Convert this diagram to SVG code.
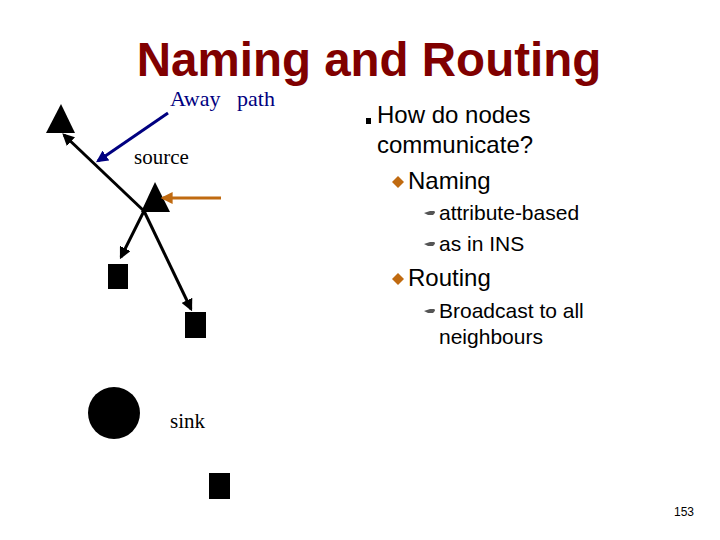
<svg xmlns="http://www.w3.org/2000/svg" width="720" height="540" viewBox="0 0 720 540">
<style>
.s{font-family:"Liberation Sans",Arial,sans-serif;fill:#000}
.r{font-family:"Liberation Serif","Times New Roman",serif}
.c{stroke:#000;stroke-width:3;fill:none}
</style>
<defs>
<marker id="ab" viewBox="0 0 10 10" refX="8" refY="5" markerWidth="4" markerHeight="4" orient="auto"><path d="M0,0L10,5L0,10z" fill="#000"/></marker>
<marker id="au" viewBox="0 0 10 10" refX="8" refY="5" markerWidth="4" markerHeight="4" orient="auto"><path d="M0,0L10,5L0,10z" fill="#000080"/></marker>
<marker id="ao" viewBox="0 0 10 10" refX="8" refY="5" markerWidth="4" markerHeight="4" orient="auto"><path d="M0,0L10,5L0,10z" fill="#c06a10"/></marker>
<path id="hand" d="M0,3 L6,1 L10,1 Q12,2 10,4 L9,5 L4,5 Z" fill="#555"/>
</defs>
<rect width="720" height="540" fill="#fff"/>
<text x="369" y="76" text-anchor="middle" font-family="Liberation Sans,Arial,sans-serif" font-weight="bold" font-size="47.5" fill="#800000">Naming and Routing</text>
<text class="r" x="170" y="106" font-size="22" fill="#000080" xml:space="preserve">Away   path</text>
<text class="r" x="134" y="164" font-size="21">source</text>
<text class="r" x="170" y="428" font-size="21">sink</text>
<g id="node-tl"><path d="M61,104 L75,133 L46,133 Z" fill="#000"/></g>
<g id="node-source"><path d="M155,182 L170,212 L141,212 Z" fill="#000"/></g>
<g id="node-sq1"><rect x="108" y="264" width="20" height="25" fill="#000"/></g>
<g id="node-sq2"><rect x="185" y="312" width="21" height="26" fill="#000"/></g>
<g id="node-sq3"><rect x="209" y="473" width="21" height="26" fill="#000"/></g>
<g id="node-sink"><circle cx="114" cy="413" r="26" fill="#000"/></g>
<g id="connectors">
<line class="c" x1="144" y1="211" x2="64" y2="135" marker-end="url(#ab)"/>
<line class="c" x1="144" y1="211" x2="121" y2="257" marker-end="url(#ab)"/>
<line class="c" x1="144" y1="211" x2="191" y2="309" marker-end="url(#ab)"/>
<line x1="168" y1="113" x2="98" y2="161" stroke="#000080" stroke-width="3" marker-end="url(#au)"/>
<line x1="221" y1="198" x2="163" y2="198" stroke="#c06a10" stroke-width="3" marker-end="url(#ao)"/>
</g>
<rect x="366" y="118" width="5" height="6" fill="#000"/>
<text class="s" x="377" y="123" font-size="24">How do nodes</text>
<text class="s" x="377" y="153" font-size="24">communicate?</text>
<path d="M392,182 L398,176 L404,182 L398,188 Z" fill="#c06a10"/>
<text class="s" x="408" y="189" font-size="24">Naming</text>
<use href="#hand" x="424" y="210"/>
<text class="s" x="439" y="220" font-size="21">attribute-based</text>
<use href="#hand" x="424" y="241"/>
<text class="s" x="439" y="251" font-size="21">as in INS</text>
<path d="M392,279 L398,273 L404,279 L398,285 Z" fill="#c06a10"/>
<text class="s" x="408" y="286" font-size="24">Routing</text>
<use href="#hand" x="424" y="308"/>
<text class="s" x="439" y="318" font-size="21">Broadcast to all</text>
<text class="s" x="439" y="344" font-size="21">neighbours</text>
<text class="s" x="694" y="516" font-size="12" text-anchor="end">153</text>
</svg>
